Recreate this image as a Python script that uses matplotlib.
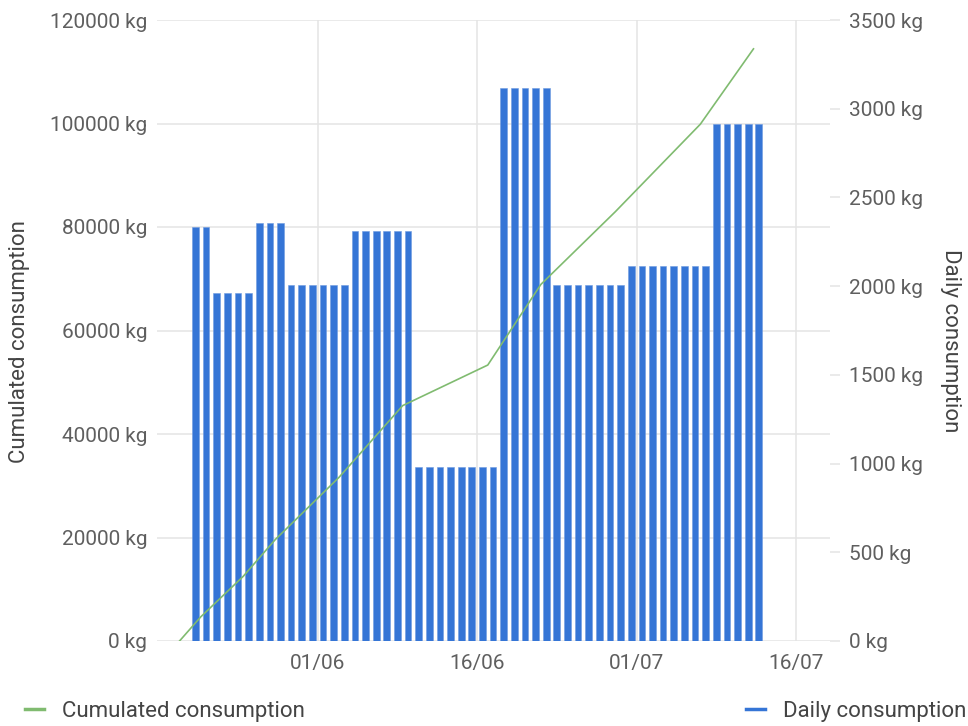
import numpy as np
import pandas as pd
import matplotlib
matplotlib.use("Agg")
import matplotlib.pyplot as plt
import matplotlib.dates as mdates
import matplotlib.ticker as ticker
from matplotlib.lines import Line2D

plt.rcParams['font.family'] = ['Roboto', 'DejaVu Sans']

# daily consumption (kg), one bar per day from 20/05
first_day = "2023-05-20"
daily = ([2335] * 2 + [1960] * 4 + [2358] * 3 + [2005] * 6 + [2313] * 6 +
         [979] * 8 + [3117] * 5 + [2006] * 7 + [2114] * 8 + [2912] * 5)

left_ticks = [0, 20000, 40000, 60000, 80000, 100000, 120000]
right_ticks = [0, 500, 1000, 1500, 2000, 2500, 3000, 3500]
x_ticks = ["2023-06-01", "2023-06-16", "2023-07-01", "2023-07-16"]

days = pd.date_range(first_day, periods=len(daily))
# cumulated value is drawn from the day before the first bar
cum_days = pd.date_range(days[0] - pd.Timedelta(days=1), periods=len(daily) + 1)
cumulated = np.concatenate([[0], np.cumsum(daily)])

blue = '#3575d6'
green = '#80bb70'
grid_c = '#e4e4e4'
tick_c = '#5f5f5f'

fig = plt.figure(figsize=(9.68, 7.26), dpi=100)
W, H = 968, 726
ax = fig.add_axes([157 / W, 1 - 641 / H, (830 - 157) / W, (641 - 20) / H])
ax2 = ax.twinx()   # bars, right axis
ax3 = ax.twinx()   # line, drawn over the bars

ax2.bar(days + pd.Timedelta(hours=12), daily, width=0.63, color=blue,
        edgecolor='#6f9be0', linewidth=0.4, zorder=2)
ax3.plot(cum_days, cumulated, color=green, linewidth=1.2)

xmin = pd.Timestamp("2023-06-01") - pd.Timedelta(days=15.12)
xmax = pd.Timestamp("2023-07-16") + pd.Timedelta(days=3.2)
for a in (ax, ax2, ax3):
    a.set_xlim(xmin, xmax)
    for s in a.spines.values():
        s.set_visible(False)

ax.set_ylim(0, 120000)
ax3.set_ylim(0, 120000)
ax2.set_ylim(0, 3500)

ax.set_yticks(left_ticks)
ax.yaxis.set_major_formatter(ticker.FuncFormatter(lambda v, p: "%d kg" % v))
ax2.set_yticks(right_ticks)
ax2.yaxis.set_major_formatter(ticker.FuncFormatter(lambda v, p: "%d kg" % v))
ax3.set_yticks([])

ax.set_xticks(pd.to_datetime(x_ticks))
ax.xaxis.set_major_formatter(mdates.DateFormatter("%d/%m"))
ax2.tick_params(axis='x', bottom=False, labelbottom=False)
ax3.tick_params(axis='x', bottom=False, labelbottom=False)

ax.grid(True, color=grid_c, linewidth=1.1)
ax.set_axisbelow(True)
ax.tick_params(axis='y', length=0, pad=7, labelsize=15, labelcolor=tick_c)
ax.tick_params(axis='x', length=0, pad=9, labelsize=15, labelcolor=tick_c)
ax2.tick_params(axis='y', length=7, width=1.1, color=grid_c, pad=7,
                labelsize=15, labelcolor=tick_c)

fig.text(20 / W, 1 - 342 / H, "Cumulated consumption", rotation=90,
         ha='center', va='center', fontsize=16, color='#444444')
fig.text(951 / W, 1 - 341 / H, "Daily consumption", rotation=270,
         ha='center', va='center', fontsize=16, color='#444444')

h1 = [Line2D([], [], color=green, linewidth=2.5)]
h2 = [Line2D([], [], color=blue, linewidth=2.5)]
leg1 = fig.legend(h1, ["Cumulated consumption"], loc='center left',
                  bbox_to_anchor=(25 / W, 1 - 711 / H), frameon=False,
                  fontsize=16, handlelength=0.85, handletextpad=0.8,
                  borderaxespad=0, borderpad=0)
leg2 = fig.legend(h2, ["Daily consumption"], loc='center right',
                  bbox_to_anchor=(966 / W, 1 - 711 / H), frameon=False,
                  fontsize=16, handlelength=0.85, handletextpad=0.8,
                  borderaxespad=0, borderpad=0)
for leg in (leg1, leg2):
    for t in leg.get_texts():
        t.set_color('#444444')

fig.savefig("out.png", dpi=100)
